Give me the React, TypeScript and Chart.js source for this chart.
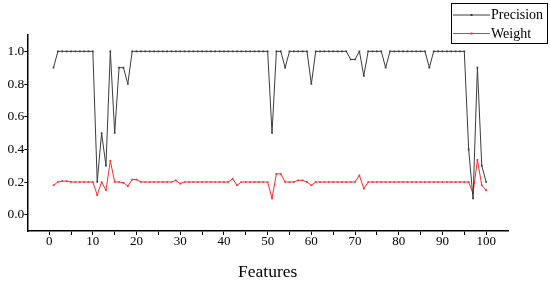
import React, { useEffect, useRef } from "react";
import { Chart, registerables } from "chart.js";

Chart.register(...registerables);

const features = [
  1, 2, 3, 4, 5, 6, 7, 8, 9, 10, 11, 12, 13, 14, 15, 16, 17, 18, 19, 20,
  21, 22, 23, 24, 25, 26, 27, 28, 29, 30, 31, 32, 33, 34, 35, 36, 37, 38, 39, 40,
  41, 42, 43, 44, 45, 46, 47, 48, 49, 50, 51, 52, 53, 54, 55, 56, 57, 58, 59, 60,
  61, 62, 63, 64, 65, 66, 67, 68, 69, 70, 71, 72, 73, 74, 75, 76, 77, 78, 79, 80,
  81, 82, 83, 84, 85, 86, 87, 88, 89, 90, 91, 92, 93, 94, 95, 96, 97, 98, 99, 100,
];

const precision = [
  0.9, 1.0, 1.0, 1.0, 1.0, 1.0, 1.0, 1.0, 1.0, 1.0,
  0.2, 0.5, 0.3, 1.0, 0.5, 0.9, 0.9, 0.8, 1.0, 1.0,
  1.0, 1.0, 1.0, 1.0, 1.0, 1.0, 1.0, 1.0, 1.0, 1.0,
  1.0, 1.0, 1.0, 1.0, 1.0, 1.0, 1.0, 1.0, 1.0, 1.0,
  1.0, 1.0, 1.0, 1.0, 1.0, 1.0, 1.0, 1.0, 1.0, 1.0,
  0.5, 1.0, 1.0, 0.9, 1.0, 1.0, 1.0, 1.0, 1.0, 0.8,
  1.0, 1.0, 1.0, 1.0, 1.0, 1.0, 1.0, 1.0, 0.95, 0.95,
  1.0, 0.85, 1.0, 1.0, 1.0, 1.0, 0.9, 1.0, 1.0, 1.0,
  1.0, 1.0, 1.0, 1.0, 1.0, 1.0, 0.9, 1.0, 1.0, 1.0,
  1.0, 1.0, 1.0, 1.0, 1.0, 0.4, 0.1, 0.9, 0.3, 0.2,
];

const weight = [
  0.18, 0.2, 0.205, 0.205, 0.2, 0.2, 0.2, 0.2, 0.2, 0.2,
  0.12, 0.2, 0.15, 0.33, 0.2, 0.2, 0.195, 0.175, 0.215, 0.215,
  0.2, 0.2, 0.2, 0.2, 0.2, 0.2, 0.2, 0.2, 0.21, 0.19,
  0.2, 0.2, 0.2, 0.2, 0.2, 0.2, 0.2, 0.2, 0.2, 0.2,
  0.2, 0.22, 0.18, 0.2, 0.2, 0.2, 0.2, 0.2, 0.2, 0.2,
  0.1, 0.25, 0.25, 0.2, 0.2, 0.2, 0.21, 0.21, 0.2, 0.18,
  0.2, 0.2, 0.2, 0.2, 0.2, 0.2, 0.2, 0.2, 0.2, 0.2,
  0.24, 0.16, 0.2, 0.2, 0.2, 0.2, 0.2, 0.2, 0.2, 0.2,
  0.2, 0.2, 0.2, 0.2, 0.2, 0.2, 0.2, 0.2, 0.2, 0.2,
  0.2, 0.2, 0.2, 0.2, 0.2, 0.2, 0.13, 0.335, 0.18, 0.15,
];

const xTicks = [0, 5, 10, 15, 20, 25, 30, 35, 40, 45, 50, 55, 60, 65, 70, 75, 80, 85, 90, 95, 100];
const yTicks = [0.0, 0.2, 0.4, 0.6, 0.8, 1.0];
const seriesNames = ["Precision", "Weight"];
const xTitle = "Features";

const FONT = "'Liberation Serif', 'Times New Roman', serif";
const BLACK_LINE = "#3c3c3c";
const RED_LINE = "#ff2a2a";

const boxLegend = {
  id: "boxLegend",
  afterDraw(chart: any) {
    const ctx = chart.ctx;
    ctx.save();
    const bx = 451.5, by = 3.5, bw = 96, bh = 40;
    ctx.strokeStyle = "#000";
    ctx.lineWidth = 1;
    ctx.strokeRect(bx, by, bw, bh);
    chart.data.datasets.forEach((ds: any, i: number) => {
      const y = 15 + i * 18.5;
      ctx.strokeStyle = ds.borderColor;
      ctx.lineWidth = 1;
      ctx.beginPath();
      ctx.moveTo(453, y);
      ctx.lineTo(490, y);
      ctx.stroke();
      ctx.fillStyle = ds.borderColor;
      ctx.fillRect(470.5, y - 1, 2, 2);
      ctx.fillStyle = "#000";
      ctx.font = `14px ${FONT}`;
      ctx.textBaseline = "middle";
      ctx.textAlign = "left";
      ctx.fillText(ds.label, 491, y + 0.5);
    });
    ctx.restore();
  },
};

export default function App() {
  const ref = useRef<HTMLCanvasElement | null>(null);
  useEffect(() => {
    if (!ref.current) return;
    const chart = new Chart(ref.current, {
      type: "line",
      data: {
        labels: features,
        datasets: [
          {
            label: seriesNames[0],
            data: precision,
            borderColor: BLACK_LINE,
            backgroundColor: BLACK_LINE,
            borderWidth: 1,
            pointStyle: "rect",
            pointRadius: 1.2,
            pointBorderWidth: 0,
            tension: 0,
          },
          {
            label: seriesNames[1],
            data: weight,
            borderColor: RED_LINE,
            backgroundColor: RED_LINE,
            borderWidth: 1,
            pointStyle: "rect",
            pointRadius: 1.2,
            pointBorderWidth: 0,
            tension: 0,
          },
        ],
      },
      options: {
        animation: false,
        responsive: false,
        maintainAspectRatio: false,
        layout: { padding: { top: 35, right: 42, left: 0, bottom: 0 } },
        plugins: {
          legend: { display: false },
          tooltip: { enabled: false },
        },
        scales: {
          x: {
            type: "linear",
            min: -5,
            max: 105,
            afterBuildTicks: (scale: any) => {
              scale.ticks = xTicks.map((v) => ({ value: v }));
            },
            afterFit: (scale: any) => {
              scale.height = 50;
            },
            ticks: {
              autoSkip: false,
              maxRotation: 0,
              padding: -1,
              color: "#000",
              font: { family: FONT, size: 13 },
              callback: (v: any) => (Number(v) % 10 === 0 ? String(v) : ""),
            },
            grid: {
              drawOnChartArea: false,
              drawTicks: true,
              tickLength: 4,
              color: "#000",
            },
            border: { display: true, color: "#000", width: 1.5 },
            title: {
              display: true,
              text: xTitle,
              color: "#000",
              font: { family: FONT, size: 17.5, lineHeight: 1 },
              padding: { top: 0, bottom: 0 },
            },
          },
          y: {
            type: "linear",
            min: -0.1,
            max: 1.1,
            afterBuildTicks: (scale: any) => {
              scale.ticks = yTicks.map((v) => ({ value: v }));
            },
            afterFit: (scale: any) => {
              scale.width = 27.3;
            },
            ticks: {
              autoSkip: false,
              padding: 0,
              color: "#000",
              font: { family: FONT, size: 13.5 },
              callback: (v: any) => Number(v).toFixed(1),
            },
            grid: {
              drawOnChartArea: false,
              drawTicks: true,
              tickLength: 3,
              color: "#000",
            },
            border: { display: true, color: "#000", width: 1.5 },
          },
        },
      },
      plugins: [boxLegend],
    });
    return () => chart.destroy();
  }, []);
  return (
    <div style={{ position: "fixed", left: 0, top: 0, width: 550, height: 281, background: "#fff" }}>
      <canvas ref={ref} width={550} height={281} style={{ display: "block", width: 550, height: 281 }} />
    </div>
  );
}
